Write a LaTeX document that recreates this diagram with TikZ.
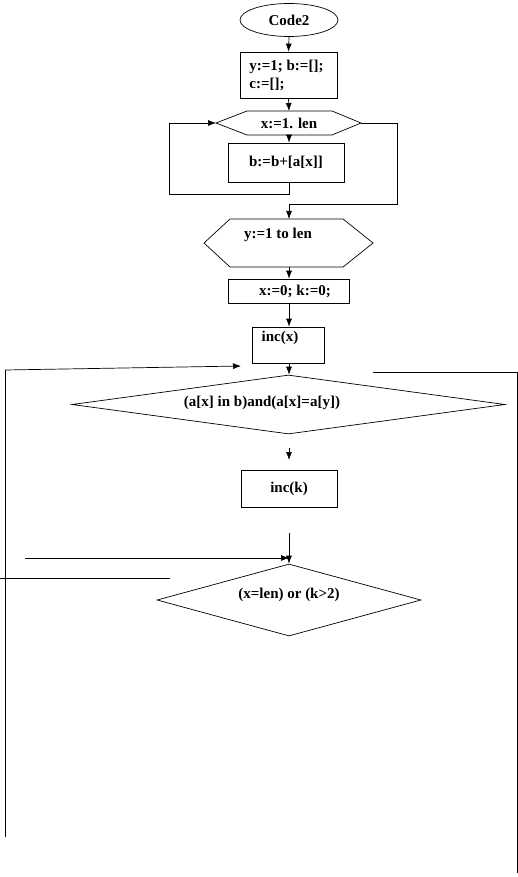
\documentclass[tikz,border=0pt]{standalone}
\usepackage{fontspec}
\setmainfont{Liberation Serif}
\usetikzlibrary{arrows.meta,shapes.geometric}
\begin{document}
\begin{tikzpicture}[x=1pt,y=-1pt,line width=0.7pt,
  txt/.style={font=\bfseries\fontsize{15}{18}\selectfont,inner sep=0pt},
  box/.style={draw,inner sep=0pt},
  arr/.style={-{Latex[length=8pt,width=6pt]}}]
\useasboundingbox[fill=white] (0,0) rectangle (518,877);

% start
\node[box,ellipse,txt,minimum width=98pt,minimum height=33pt] (start) at (289,20) {Code2};

% box 1
\node[box,minimum width=97pt,minimum height=46pt] (b1) at (288.5,75) {};
\node[txt,anchor=west,align=left] (t1) at (249,75) {y:=1;\ b:=[];\\c:=[];};

% hexagon 1
\coordinate (h1w) at (216,123);
\coordinate (h1nw) at (247,111);
\coordinate (h1ne) at (332,111);
\coordinate (h1e) at (361,123);
\coordinate (h1se) at (332,135);
\coordinate (h1sw) at (247,135);
\coordinate (h1n) at (289,111);
\coordinate (h1s) at (289,135);
\draw (h1w) -- (h1nw) -- (h1ne) -- (h1e) -- (h1se) -- (h1sw) -- cycle;
\node[txt] (h1) at (289,123) {x:=1. len};

% box 2
\node[box,txt,minimum width=116pt,minimum height=39pt] (b2) at (286,162.5) {b:=b+[a[x]]};

% hexagon 2
\coordinate (h2w) at (204,243);
\coordinate (h2nw) at (230,219);
\coordinate (h2ne) at (343,219);
\coordinate (h2e) at (373,243);
\coordinate (h2se) at (343,267);
\coordinate (h2sw) at (230,267);
\coordinate (h2n) at (289,219);
\coordinate (h2s) at (289,267);
\draw (h2w) -- (h2nw) -- (h2ne) -- (h2e) -- (h2se) -- (h2sw) -- cycle;
\node[txt] (h2) at (278,235) {y:=1 to len};

% box 3
\node[box,minimum width=121pt,minimum height=24pt] (b3) at (288.5,291) {};
\node[txt] (t3) at (295,291) {x:=0;\ k:=0;};

% box 4
\node[box,minimum width=72pt,minimum height=36pt] (b4) at (288,345) {};
\node[txt] (t4) at (280,338) {inc(x)};

% diamond 1
\node[box,diamond,minimum width=433pt,minimum height=59pt] (d1) at (288.5,404.5) {};
\node[txt] (t5) at (262,403) {(a[x] in b)and(a[x]=a[y])};

% box 5
\node[box,txt,minimum width=96pt,minimum height=37pt] (b5) at (289,488.5) {inc(k)};

% diamond 2
\node[box,diamond,minimum width=264pt,minimum height=72pt] (d2) at (289,600) {};
\node[txt] (t6) at (289,595) {(x=len)\ or (k>2)};

% helper coordinates
\coordinate (L1) at (169,194);
\coordinate (R1) at (397,204);
\coordinate (LL1) at (5,370);
\coordinate (LL2) at (5,837);
\coordinate (LA) at (241,366);
\coordinate (RR1) at (373,372);
\coordinate (RR2) at (517,372);
\coordinate (RR3) at (517,873);
\coordinate (SA1) at (289,448);
\coordinate (SA2) at (289,460);
\coordinate (V1) at (289,533);
\coordinate (HA) at (25,558);
\coordinate (HB) at (289,558);
\coordinate (G1) at (0,578);
\coordinate (G2) at (170,578);

% connectors
\draw[arr] (start.south) -- (b1.north);
\draw[arr] (b1.south) -- (h1n);
\draw[arr] (h1s) -- (b2.north -| h1s);
\draw[arr] (b2.south -| h1s) |- (L1) |- (h1w);
\draw[arr] (h1e) -| (R1) -| (h2n);
\draw[arr] (h2s) -- (b3.north -| h2s);
\draw[arr] (b3.south -| h2s) -- (b4.north -| h2s);
\draw[arr] (b4.south -| h2s) -- (d1.north -| h2s);
\draw (LL2) -- (LL1);
\draw[arr] (LL1) -- (LA);
\draw (RR1) -- (RR2) -- (RR3);
\draw[arr] (SA1) -- (SA2);
\draw[arr] (V1) -- (d2.north);
\draw[arr] (HA) -- (HB);
\draw (G1) -- (G2);
\end{tikzpicture}
\end{document}
